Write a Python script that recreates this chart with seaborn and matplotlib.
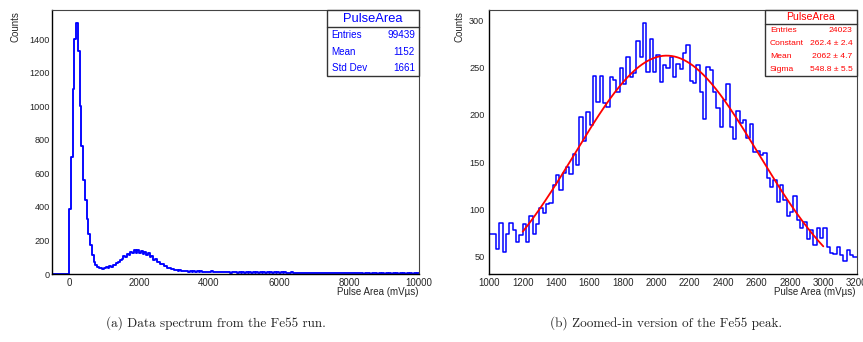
import numpy as np
import pandas as pd
import matplotlib
matplotlib.use("Agg")
import matplotlib.pyplot as plt
from matplotlib.ticker import MultipleLocator
from matplotlib.patches import Rectangle
from matplotlib.lines import Line2D
import seaborn as sns

# ---------------------------------------------------------------- data
# Full pulse-area spectrum: 50 mV·µs bins starting at -500
spectrum_start = -500
spectrum_width = 50
spectrum_counts = [
    0, 0, 0, 0, 0, 0, 0, 0, 0, 0,
    390, 700, 1100, 1400, 1497, 1330, 1000, 760, 560, 440,
    330, 240, 175, 115, 72, 52, 40, 34, 36, 31,
    35, 40, 37, 45, 44, 55, 55, 68, 70, 85,
    90, 106, 104, 122, 116, 133, 124, 141, 127, 143,
    126, 140, 122, 134, 114, 124, 102, 108, 86, 88,
    72, 74, 58, 60, 46, 48, 36, 38, 28, 31,
    22, 26, 19, 22, 16, 20, 15, 18, 14, 17,
    12, 16, 13, 15, 11, 15, 12, 14, 11, 14,
    10, 15, 11, 14, 9, 14, 10, 13, 9, 13,
    9, 13, 8, 12, 9, 13, 8, 12, 8, 11,
    8, 12, 7, 11, 8, 11, 7, 10, 7, 11,
    7, 10, 6, 10, 7, 9, 6, 10, 6, 9,
    6, 9, 5, 9, 6, 8, 5, 9, 5, 8,
    5, 8, 5, 7, 4, 8, 5, 7, 4, 7,
    4, 7, 4, 8, 4, 6, 4, 7, 3, 6,
    4, 6, 3, 6, 4, 6, 3, 5, 3, 6,
    3, 6, 3, 5, 3, 5, 3, 6, 2, 5,
    3, 5, 2, 5, 3, 4, 2, 5, 2, 4,
    2, 5, 2, 4, 2, 4, 2, 4, 2, 4,
    2, 4, 2, 3, 2, 4, 1, 3, 2, 3,
]

# Fe55 peak region: 20 mV·µs bins from 1000 to 3200
peak_start = 1000
peak_width = 20
peak_counts = [
    74, 74, 58, 86, 55, 74, 86, 78, 65, 73,
    85, 65, 93, 74, 85, 101, 96, 106, 107, 126,
    136, 120, 138, 145, 137, 158, 147, 198, 172, 203,
    189, 241, 213, 241, 212, 208, 240, 237, 224, 249,
    232, 261, 240, 244, 278, 261, 297, 245, 280, 245,
    263, 235, 252, 249, 261, 240, 254, 248, 265, 274,
    236, 234, 253, 224, 195, 250, 247, 224, 207, 187,
    215, 232, 187, 174, 204, 191, 194, 175, 190, 161,
    162, 157, 160, 133, 124, 131, 108, 126, 110, 93,
    97, 114, 89, 80, 87, 69, 78, 62, 80, 70,
    80, 60, 54, 53, 60, 52, 45, 57, 52, 50,
]

# Gaussian fit results shown in the fit box
fit_constant, fit_constant_err = 262.4, 2.4
fit_mean, fit_mean_err = 2062, 4.7
fit_sigma, fit_sigma_err = 548.8, 5.5
fit_range = (1200, 3000)

# Statistics box entries
spectrum_entries, spectrum_mean, spectrum_std = 99439, 1152, 1661
peak_entries = 24023

# Axis ticks
spectrum_xticks = [0, 2000, 4000, 6000, 8000, 10000]
spectrum_yticks = [0, 200, 400, 600, 800, 1000, 1200, 1400]
peak_xticks = [1000, 1200, 1400, 1600, 1800, 2000, 2200, 2400, 2600, 2800, 3000, 3200]
peak_yticks = [50, 100, 150, 200, 250, 300]

captions = ["(a) Data spectrum from the Fe55 run.",
            "(b) Zoomed-in version of the Fe55 peak."]

# ---------------------------------------------------------------- style
sns.set_style("white")
plt.rcParams["font.family"] = ["Liberation Sans", "DejaVu Sans"]

W, H = 863, 342
fig = plt.figure(figsize=(W / 100, H / 100), dpi=100)
fig.patch.set_facecolor("white")

def fx(x):
    return x / W

def fy(y):
    return 1 - y / H

def px_axes(x0, x1, y0, y1):
    return fig.add_axes([fx(x0), fy(y1), (x1 - x0) / W, (y1 - y0) / H])

HIST_BLUE = "#0000ff"
FIT_RED = "#ff0000"


def make_frame(df, start, width, ax, lw):
    edges = [float(start + width * k) for k in range(len(df) + 1)]
    sns.histplot(data=df, x="center", weights="count", bins=edges,
                 element="step", fill=False, color=HIST_BLUE,
                 linewidth=lw, ax=ax)
    ax.set_xlabel("")
    ax.set_ylabel("")


def style_axes(ax, ylab_pad):
    for side in ("left", "bottom"):
        ax.spines[side].set_color("black")
        ax.spines[side].set_linewidth(1.0)
    for side in ("top", "right"):
        ax.spines[side].set_visible(True)
        ax.spines[side].set_color("#444444")
        ax.spines[side].set_linewidth(0.8)
    ax.tick_params(which="both", direction="in", top=False, right=False,
                   color="black", width=0.8)
    ax.tick_params(axis="y", which="major", length=7, labelsize=6.6,
                   pad=ylab_pad)
    ax.tick_params(axis="y", which="minor", length=3.4)
    ax.tick_params(axis="x", which="major", length=5.3, labelsize=7.0, pad=3)
    ax.tick_params(axis="x", which="minor", length=2.7)
    ax.grid(False)


def stats_box(x0, x1, y0, y1, ysep, title, title_y, title_size,
              rows, row_ys, lab_x, val_x, row_size, color):
    fig.add_artist(Rectangle((fx(x0), fy(y1)), fx(x1) - fx(x0), fy(y0) - fy(y1),
                             transform=fig.transFigure, facecolor="white",
                             edgecolor="#333333", linewidth=1.0, zorder=5))
    fig.add_artist(Line2D([fx(x0), fx(x1)], [fy(ysep), fy(ysep)],
                          transform=fig.transFigure, color="#333333",
                          linewidth=1.0, zorder=6))
    fig.text(fx((x0 + x1) / 2), fy(title_y), title, color=color,
             fontsize=title_size, ha="center", va="center", zorder=7)
    for (lab, val), yy in zip(rows, row_ys):
        fig.text(fx(lab_x), fy(yy), lab, color=color, fontsize=row_size,
                 ha="left", va="center", zorder=7)
        fig.text(fx(val_x), fy(yy), val, color=color, fontsize=row_size,
                 ha="right", va="center", zorder=7)


# ---------------------------------------------------------------- left panel
spec_df = pd.DataFrame({
    "center": spectrum_start + spectrum_width * (np.arange(len(spectrum_counts)) + 0.5),
    "count": spectrum_counts,
})
ax_l = px_axes(51.5, 419.0, 10, 274)
make_frame(spec_df, spectrum_start, spectrum_width, ax_l, lw=1.35)
ax_l.set_xlim(-500, 10000)
ax_l.set_ylim(0, 1572.8)
ax_l.set_xticks(spectrum_xticks)
ax_l.set_yticks(spectrum_yticks)
ax_l.xaxis.set_minor_locator(MultipleLocator(500))
ax_l.yaxis.set_minor_locator(MultipleLocator(40))
style_axes(ax_l, ylab_pad=1.0)

# ---------------------------------------------------------------- right panel
peak_df = pd.DataFrame({
    "center": peak_start + peak_width * (np.arange(len(peak_counts)) + 0.5),
    "count": peak_counts,
})
ax_r = px_axes(489.3, 856.7, 10, 274)
make_frame(peak_df, peak_start, peak_width, ax_r, lw=1.1)

fit_x = np.linspace(fit_range[0], fit_range[1], 400)
fit_y = fit_constant * np.exp(-0.5 * ((fit_x - fit_mean) / fit_sigma) ** 2)
sns.lineplot(x=fit_x, y=fit_y, color=FIT_RED, linewidth=1.3, sort=False,
             estimator=None, ax=ax_r, zorder=4)
ax_r.set_xlabel("")
ax_r.set_ylabel("")
ax_r.set_xlim(1000, 3200)
ax_r.set_ylim(31.7, 310.6)
ax_r.set_xticks(peak_xticks)
ax_r.set_yticks(peak_yticks)
ax_r.xaxis.set_minor_locator(MultipleLocator(50))
ax_r.yaxis.set_minor_locator(MultipleLocator(10))
style_axes(ax_r, ylab_pad=3.5)

# ---------------------------------------------------------------- axis titles
for xc, xr in ((15, 418.5), (459, 855.7)):
    fig.text(fx(xc), fy(11.5), "Counts", rotation=90, fontsize=7.0,
             ha="center", va="top")
    fig.text(fx(xr), fy(287.0), "Pulse Area (mVµs)", fontsize=7.0,
             ha="right", va="top")

# ---------------------------------------------------------------- stats boxes
stats_box(327.3, 419.0, 10, 76, 27.3, "PulseArea", 19.0, 9.3,
          [("Entries", f"{spectrum_entries}"),
           ("Mean", f"{spectrum_mean}"),
           ("Std Dev", f"{spectrum_std}")],
          [34.7, 51.7, 68.3], 331.7, 415.0, 7.1, HIST_BLUE)

stats_box(765.0, 856.7, 10, 76, 24.0, "PulseArea", 16.8, 7.6,
          [("Entries", f"{peak_entries}"),
           ("Constant", f"{fit_constant:.1f} ± {fit_constant_err:.1f}"),
           ("Mean", f"{fit_mean} ± {fit_mean_err:.1f}"),
           ("Sigma", f"{fit_sigma:.1f} ± {fit_sigma_err:.1f}")],
          [30.0, 43.3, 56.7, 69.5], 770.0, 852.5, 6.1, FIT_RED)

# ---------------------------------------------------------------- captions
for xc, text in zip((215.5, 666.0), captions):
    fig.text(fx(xc), fy(323), text, family=["cmr10", "DejaVu Serif"],
             fontsize=9.5, ha="center", va="center")

fig.savefig("out.png", dpi=100, facecolor="white")
